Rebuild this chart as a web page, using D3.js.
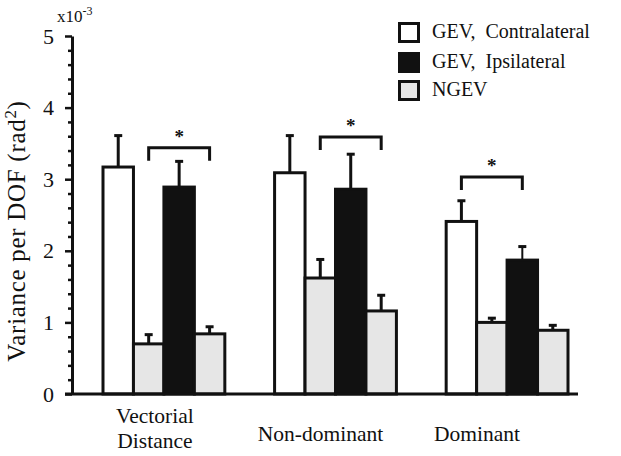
<!DOCTYPE html>
<html>
<head>
<meta charset="utf-8">
<script src="https://cdn.jsdelivr.net/npm/d3@7/dist/d3.min.js"></script>
<style>
  html, body { margin: 0; padding: 0; background: #fff; }
  svg { display: block; font-family: "Liberation Serif", "Times New Roman", serif; }
</style>
</head>
<body>
<svg id="chart" width="621" height="456"></svg>
<script>
// ---- data (units of 1e-3 rad^2) ----
const categories = ["Vectorial Distance", "Non-dominant", "Dominant"];
const categoryLines = [["Vectorial", "Distance"], ["Non-dominant"], ["Dominant"]];
const seriesNames = ["GEV, Contralateral", "GEV, Ipsilateral", "NGEV"];
// bar order within each group: Contralateral, NGEV, Ipsilateral, NGEV
const contraValues = [3.17, 3.09, 2.41];
const contraErrors = [0.46, 0.54, 0.31];
const ngevAValues  = [0.70, 1.62, 1.00];
const ngevAErrors  = [0.15, 0.28, 0.08];
const ipsiValues   = [2.89, 2.86, 1.87];
const ipsiErrors   = [0.38, 0.51, 0.21];
const ngevBValues  = [0.84, 1.16, 0.89];
const ngevBErrors  = [0.12, 0.24, 0.09];
// significance brackets: [bar index from, bar index to, level]
const sigFrom  = [1, 1, 0];
const sigTo    = [3, 3, 2];
const sigLevel = [3.44, 3.59, 3.03];
const yTicks = [0, 1, 2, 3, 4, 5];

const barSeries = [
  {key: "contra", name: seriesNames[0], values: contraValues, errors: contraErrors, fill: "#ffffff"},
  {key: "ngevA",  name: seriesNames[2], values: ngevAValues,  errors: ngevAErrors,  fill: "#e6e6e6"},
  {key: "ipsi",   name: seriesNames[1], values: ipsiValues,   errors: ipsiErrors,   fill: "#111111"},
  {key: "ngevB",  name: seriesNames[2], values: ngevBValues,  errors: ngevBErrors,  fill: "#e6e6e6"}
];

const svg = d3.select("#chart");

const y = d3.scaleLinear().domain([0, 5]).range([394, 36]);
const x0 = d3.scaleBand().domain(categories).range([103, 568]).paddingInner(0.29).paddingOuter(0);
const x1 = d3.scaleBand().domain(d3.range(barSeries.length)).range([0, x0.bandwidth()]).padding(0);

const bars = [];
categories.forEach((c, ci) => {
  barSeries.forEach((s, si) => {
    bars.push({cat: c, ci, si, v: s.values[ci], e: s.errors[ci], fill: s.fill});
  });
});

// error bars (drawn first, bars overlay their bottoms)
const eb = svg.append("g").attr("stroke", "#111").attr("stroke-width", 3);
bars.forEach(b => {
  const cx = x0(b.cat) + x1(b.si) + x1.bandwidth() / 2;
  const top = y(b.v + b.e) + 1.5;
  eb.append("line").attr("x1", cx).attr("x2", cx).attr("y1", y(b.v)).attr("y2", top)
    .attr("stroke-width", (b.si === 2 && b.ci === 2) ? 2 : 3);
  eb.append("line").attr("x1", cx - 4).attr("x2", cx + 4).attr("y1", top).attr("y2", top);
});

// bars
svg.append("g").selectAll("rect").data(bars).join("rect")
  .attr("x", d => x0(d.cat) + x1(d.si))
  .attr("y", d => y(d.v))
  .attr("width", x1.bandwidth())
  .attr("height", d => y(0) - y(d.v))
  .attr("fill", d => d.fill)
  .attr("stroke", "#111")
  .attr("stroke-width", 3);

// y axis
const yAxis = d3.axisLeft(y).tickValues(yTicks).tickSize(7).tickSizeOuter(0).tickPadding(11)
  .tickFormat(d3.format("d"));
const yg = svg.append("g").attr("transform", "translate(72,0)").call(yAxis);
yg.select(".domain").attr("stroke", "#111").attr("stroke-width", 3);
yg.selectAll(".tick line").attr("stroke", "#111").attr("stroke-width", 2.5);
yg.selectAll(".tick text").attr("font-family", "Liberation Serif, serif").attr("font-size", 22).attr("fill", "#111");
const minor = d3.range(0, 5.001, 0.2).filter(v => Math.abs(v - Math.round(v)) > 1e-6);
const yMinor = d3.axisLeft(y).tickValues(minor).tickSize(4).tickSizeOuter(0).tickFormat("");
const ym = svg.append("g").attr("transform", "translate(72,0)").call(yMinor);
ym.select(".domain").remove();
ym.selectAll(".tick line").attr("stroke", "#111").attr("stroke-width", 2.5);

// x baseline
svg.append("line").attr("x1", 65).attr("x2", 578).attr("y1", y(0)).attr("y2", y(0))
  .attr("stroke", "#111").attr("stroke-width", 3);

// exponent label
const ex = svg.append("text").attr("x", 57).attr("y", 22).attr("font-size", 17).attr("fill", "#111");
ex.append("tspan").text("x10");
ex.append("tspan").attr("dy", -7).attr("font-size", 12).text("-3");

// y title
const yt = svg.append("text").attr("transform", "translate(25,231) rotate(-90)")
  .attr("text-anchor", "middle").attr("font-size", 25).attr("letter-spacing", 0.7).attr("fill", "#111");
yt.append("tspan").text("Variance per DOF (rad");
yt.append("tspan").attr("dy", -9).attr("font-size", 17).text("2");
yt.append("tspan").attr("dy", 9).text(")");

// category labels
const labelShift = [-9, -15, -30];
const labelBase = [[423, 448], [441], [441]];
categories.forEach((c, ci) => {
  const cx = x0(c) + x0.bandwidth() / 2 + labelShift[ci];
  categoryLines[ci].forEach((ln, li) => {
    svg.append("text").attr("x", cx).attr("y", labelBase[ci][li]).attr("text-anchor", "middle")
      .attr("font-size", 21.5).attr("fill", "#111").text(ln);
  });
});

// significance brackets
categories.forEach((c, ci) => {
  const xa = x0(c) + x1(sigFrom[ci]) + x1.bandwidth() / 2;
  const xb = x0(c) + x1(sigTo[ci]) + x1.bandwidth() / 2;
  const yl = y(sigLevel[ci]);
  svg.append("path")
    .attr("d", `M${xa},${yl + 13}V${yl}H${xb}V${yl + 13}`)
    .attr("fill", "none").attr("stroke", "#111").attr("stroke-width", 3);
  svg.append("text").attr("x", (xa + xb) / 2).attr("y", yl - 5).attr("text-anchor", "middle")
    .attr("font-size", 19).attr("font-weight", "bold").attr("fill", "#111").text("*");
});

// legend
const legendFills = ["#ffffff", "#111111", "#e6e6e6"];
const legendY = [22, 52, 80];
const lg = svg.append("g");
seriesNames.forEach((n, i) => {
  lg.append("rect").attr("x", 399.5).attr("y", legendY[i] + 1.5).attr("width", 19).attr("height", 18)
    .attr("fill", legendFills[i]).attr("stroke", "#111").attr("stroke-width", 3);
  lg.append("text").attr("x", 432).attr("y", legendY[i] + 16).attr("font-size", 20)
    .attr("fill", "#111").attr("xml:space", "preserve").text(n.replace(", ", ",  "));
});
</script>
</body>
</html>
